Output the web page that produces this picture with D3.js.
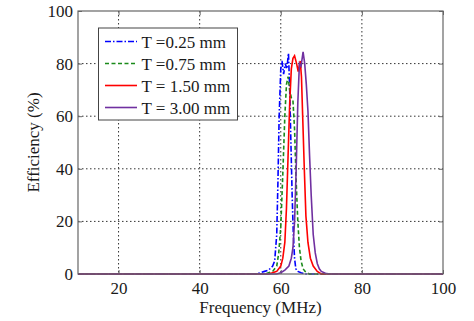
<!DOCTYPE html>
<html><head><meta charset="utf-8">
<script src="https://cdn.jsdelivr.net/npm/d3@7"></script>
<style>body{margin:0;background:#fff}</style>
</head><body><svg id="c" width="474" height="321" font-family="Liberation Serif"></svg>
<script>
const xTicks=[20,40,60,80,100];
const yTicks=[0,20,40,60,80,100];
const seriesNames=["T =0.25 mm","T =0.75 mm","T = 1.50 mm","T = 3.00 mm"];
const f025=[10,54,55,56,57,58,58.5,59,59.3,59.6,60,60.3,60.7,61.1,61.5,61.9,62.2,62.5,62.8,63.1,63.4,63.7,64.2,65,66,100];
const e025=[0,0,0.5,1,1.5,3,5,15,35,60,78,81,76,80,78,84,70,50,30,15,6,2,1,0.5,0,0];
const f075=[10,56,57,58,59,59.5,60,60.5,61,61.4,61.8,62.2,62.6,63,63.4,63.8,64.2,64.6,65,65.5,66,67,100];
const e075=[0,0,0.5,1,3,8,18,38,60,72,75,70,67,66,55,35,20,10,5,2,1,0,0];
const f150=[10,57,58,59,60,60.5,61,61.4,61.8,62.2,62.6,63,63.4,63.9,64.3,64.8,65.1,65.4,65.8,66.2,66.7,67.3,68,69,70,100];
const e150=[0,0,0.5,1,3,6,12,25,45,65,78,82,83,80,77,81,75,60,40,22,12,6,3,1,0,0];
const f300=[10,59,60,61,62,62.6,63,63.4,63.8,64.2,64.6,65,65.5,65.9,66.3,66.7,67.1,67.5,68,68.5,69,69.5,70,71,72,100];
const e300=[0,0,0.5,1.5,3,6,10,20,40,65,80,79,84.5,80,72,62,45,30,15,8,4,2,1,0.3,0,0];
const colors=["#0000ff","#1a8a1a","#ff0000","#7030a0"];
const dashes=["6,2,1.5,2","4,2.5",null,null];
const series=[[f025,e025],[f075,e075],[f150,e150],[f300,e300]];

const FONT="'Liberation Serif'";
const svg=d3.select("#c");
const L=78,R=443,T=11,B=274;
const x=d3.scaleLinear().domain([10,100]).range([L,R]);
const y=d3.scaleLinear().domain([0,100]).range([B,T]);

function styleText(sel){
 sel.attr("font-family",null).style("font-family",FONT).style("font-size","17px").style("fill","#1a1a1a");
}

// grid
const g=svg.append("g");
xTicks.filter(d=>d<100).forEach(d=>g.append("line").attr("x1",x(d)).attr("x2",x(d)).attr("y1",T).attr("y2",B)
 .attr("stroke","#333").attr("stroke-width",1).attr("stroke-dasharray","1.5,2.5"));
yTicks.filter(d=>d>0&&d<100).forEach(d=>g.append("line").attr("x1",L).attr("x2",R).attr("y1",y(d)).attr("y2",y(d))
 .attr("stroke","#333").attr("stroke-width",1).attr("stroke-dasharray","1.5,2.5"));

// axes
const xa=svg.append("g").attr("transform",`translate(0,${B})`)
 .call(d3.axisBottom(x).tickValues(xTicks).tickSize(-4).tickPadding(8));
const ya=svg.append("g").attr("transform",`translate(${L},0)`)
 .call(d3.axisLeft(y).tickValues(yTicks).tickSize(-4).tickPadding(5));
[xa,ya].forEach(a=>{a.attr("font-family",null).attr("font-size",null);a.select(".domain").remove();a.selectAll("line").attr("stroke","#666");
 styleText(a.selectAll("text"));});
svg.append("g").attr("transform",`translate(0,${T})`).call(d3.axisTop(x).tickValues(xTicks).tickSize(-4).tickFormat(""))
 .call(a=>{a.select(".domain").remove();a.selectAll("line").attr("stroke","#666");});
svg.append("g").attr("transform",`translate(${R},0)`).call(d3.axisRight(y).tickValues(yTicks).tickSize(-4).tickFormat(""))
 .call(a=>{a.select(".domain").remove();a.selectAll("line").attr("stroke","#666");});

// curves
const line=d3.line().x(d=>x(d[0])).y(d=>y(d[1]));
series.forEach((s,i)=>{
 const pts=s[0].map((f,j)=>[f,s[1][j]]);
 svg.append("path").datum(pts).attr("d",line).attr("fill","none").attr("stroke",colors[i])
  .attr("stroke-width",1.6).attr("stroke-dasharray",dashes[i]);
});

// frame
svg.append("rect").attr("x",L).attr("y",T).attr("width",R-L).attr("height",B-T)
 .attr("fill","none").attr("stroke","#666").attr("stroke-width",1.2);

// labels
svg.append("text").attr("x",(L+R)/2).attr("y",313).attr("text-anchor","middle").call(styleText).text("Frequency (MHz)");
svg.append("text").attr("transform",`translate(39,${(T+B)/2}) rotate(-90)`).attr("text-anchor","middle").call(styleText).text("Efficiency (%)");

// legend
const lg=svg.append("g");
lg.append("rect").attr("x",98.5).attr("y",28).attr("width",139).attr("height",92).attr("fill","#fff").attr("stroke","#444").attr("stroke-width",1);
seriesNames.forEach((n,i)=>{
 const cy=41.5+i*22;
 lg.append("line").attr("x1",105).attr("x2",137).attr("y1",cy).attr("y2",cy).attr("stroke",colors[i]).attr("stroke-width",1.6).attr("stroke-dasharray",dashes[i]);
 lg.append("text").attr("x",141.5).attr("y",cy+6).call(styleText).text(n);
});
</script></body></html>
